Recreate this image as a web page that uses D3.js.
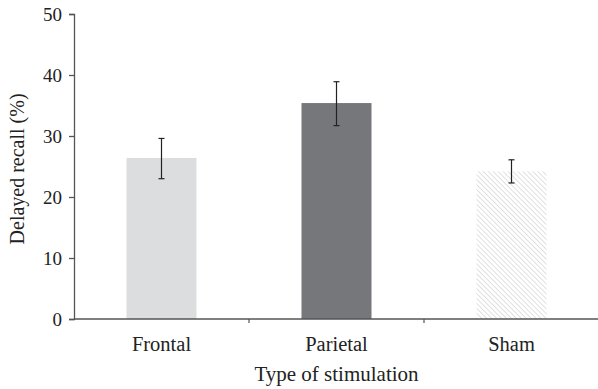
<!doctype html>
<html>
<head>
<meta charset="utf-8">
<style>
  body { margin: 0; background: #fff; }
  text { font-family: "Liberation Serif", "DejaVu Serif", serif; }
</style>
</head>
<body>
<svg width="598" height="389"></svg>
<script src="https://d3js.org/d3.v7.min.js"></script>
<script>
var categories = ["Frontal", "Parietal", "Sham"];
var means = [26.4, 35.4, 24.2];
var errLow = [23.0, 31.7, 22.3];
var errHigh = [29.6, 38.9, 26.1];
var yTicks = [0, 10, 20, 30, 40, 50];

var svg = d3.select("svg"),
    margin = {top: 14, right: 0, bottom: 70, left: 74},
    width = +svg.attr("width") - margin.left - margin.right,
    height = +svg.attr("height") - margin.top - margin.bottom,
    g = svg.append("g").attr("transform", "translate(" + margin.left + "," + margin.top + ")");

var x = d3.scaleBand().domain(categories).range([0, width + 1]).paddingInner(0.6).paddingOuter(0.3);
var xb = d3.scaleBand().domain(categories).range([0, width + 1]);
var y = d3.scaleLinear().domain([0, 50]).range([height, 0]);

// hatch pattern for sham
var defs = svg.append("defs");
defs.append("pattern")
    .attr("id", "hatch")
    .attr("patternUnits", "userSpaceOnUse")
    .attr("width", 3.5)
    .attr("height", 3.5)
    .attr("patternTransform", "rotate(45)")
  .append("line")
    .attr("x1", 0).attr("y1", 0)
    .attr("x2", 3.5).attr("y2", 0)
    .attr("stroke", "#c8c8c8")
    .attr("stroke-width", 1.1);

var fills = ["#dcdddf", "#76777b", "url(#hatch)"];

g.selectAll(".bar")
  .data(categories)
  .enter().append("rect")
    .attr("x", function(d) { return x(d); })
    .attr("y", function(d, i) { return y(means[i]); })
    .attr("width", x.bandwidth())
    .attr("height", function(d, i) { return height - y(means[i]); })
    .attr("fill", function(d, i) { return fills[i]; });

// error bars
var eb = g.selectAll(".err")
  .data(categories)
  .enter().append("g")
    .attr("transform", function(d) { return "translate(" + (x(d) + x.bandwidth() / 2) + ",0)"; })
    .attr("stroke", "#222")
    .attr("stroke-width", 1.2);
eb.append("line")
    .attr("y1", function(d, i) { return y(errLow[i]); })
    .attr("y2", function(d, i) { return y(errHigh[i]); });
eb.append("line")
    .attr("x1", -3).attr("x2", 3)
    .attr("y1", function(d, i) { return y(errLow[i]); })
    .attr("y2", function(d, i) { return y(errLow[i]); });
eb.append("line")
    .attr("x1", -3).attr("x2", 3)
    .attr("y1", function(d, i) { return y(errHigh[i]); })
    .attr("y2", function(d, i) { return y(errHigh[i]); });

// y axis
var yAxis = g.append("g")
    .call(d3.axisLeft(y).tickValues(yTicks).tickSize(5).tickPadding(7));
yAxis.selectAll("path, line").attr("stroke", "#555").attr("stroke-width", 1.3);
yAxis.selectAll("text").attr("font-size", 19).attr("fill", "#222")
    .style("font-family", "Liberation Serif, serif");

// x axis
var xAxis = g.append("g").attr("transform", "translate(0," + height + ")");
xAxis.append("line")
    .attr("x1", 0).attr("x2", width + 1)
    .attr("stroke", "#555").attr("stroke-width", 1.3);
xAxis.selectAll(".tk")
  .data(categories.slice(1))
  .enter().append("line")
    .attr("x1", function(d) { return xb(d); })
    .attr("x2", function(d) { return xb(d); })
    .attr("y1", 0).attr("y2", 4)
    .attr("stroke", "#555").attr("stroke-width", 1.2);
xAxis.selectAll(".lbl")
  .data(categories)
  .enter().append("text")
    .attr("x", function(d) { return xb(d) + xb.bandwidth() / 2; })
    .attr("y", 32)
    .attr("text-anchor", "middle")
    .attr("font-size", 20.5)
    .attr("fill", "#222")
    .text(function(d) { return d; });

svg.append("text")
    .attr("x", margin.left + xb(categories[1]) + xb.bandwidth() / 2)
    .attr("y", 381)
    .attr("text-anchor", "middle")
    .attr("font-size", 21)
    .attr("fill", "#222")
    .text("Type of stimulation");

svg.append("text")
    .attr("transform", "translate(24," + (margin.top + y(24.6)) + ") rotate(-90)")
    .attr("text-anchor", "middle")
    .attr("font-size", 20)
    .attr("fill", "#222")
    .text("Delayed recall (%)");
</script>
</body>
</html>
